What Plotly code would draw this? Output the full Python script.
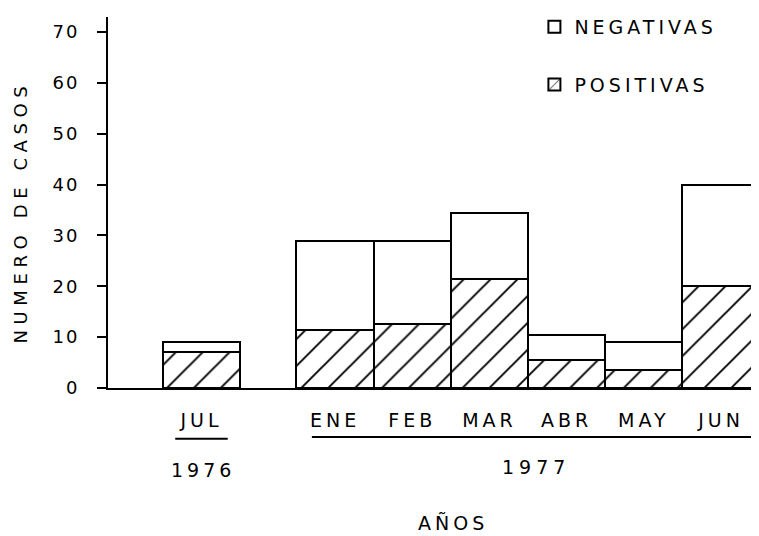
import plotly.graph_objects as go

# ---- data ----
months = ["JUL", "ENE", "FEB", "MAR", "ABR", "MAY", "JUN"]
years = ["1976", "1977"]
positivas = [7, 11.5, 12.5, 21.5, 5.5, 3.5, 20]
negativas = [2, 17.5, 16.5, 13, 5, 5.5, 20]
y_ticks = [0, 10, 20, 30, 40, 50, 60, 70]

# ---- layout helpers ----
GAP = 1.73  # distance from JUL to ENE (compressed time gap)
xpos = [0] + [GAP + i for i in range(len(months) - 1)]
FONT = "DejaVu Sans"


def spaced(t, px):
    return f'<span style="letter-spacing:{px}px">{t}</span>'


fig = go.Figure()
fig.add_trace(go.Bar(
    x=xpos, y=positivas, width=1, name=spaced("POSITIVAS", 4),
    legendgroup="pos", legendrank=2,
    marker=dict(color="white", line=dict(color="black", width=2),
                pattern=dict(shape="/", size=19, solidity=0.1,
                             fgcolor="black", fgopacity=1,
                             bgcolor="white")),
))
fig.add_trace(go.Bar(
    x=xpos, y=negativas, width=1, name=spaced("NEGATIVAS", 4),
    legendgroup="neg", legendrank=1,
    marker=dict(color="white", line=dict(color="black", width=2)),
))

fig.update_layout(
    width=751, height=528,
    margin=dict(l=100, r=0, t=8, b=148),
    barmode="stack",
    plot_bgcolor="white", paper_bgcolor="white",
    font=dict(family=FONT, color="black"),
    showlegend=True,
    legend=dict(x=0.655, y=1.024, xanchor="left", yanchor="top",
                traceorder="grouped", tracegroupgap=30,
                font=dict(size=19, family=FONT), bgcolor="rgba(0,0,0,0)"),
    xaxis=dict(range=[-1.211, 7.222], tickvals=xpos,
               ticktext=[spaced(m, 4) for m in months],
               showline=True, linecolor="black", linewidth=2,
               ticks="", showgrid=False, zeroline=False,
               tickfont=dict(size=19, family=FONT), ticklabelstandoff=14),
    yaxis=dict(range=[0, 72.94], tickvals=y_ticks,
               ticktext=[spaced(str(v), 2) for v in y_ticks],
               showline=True, linecolor="black", linewidth=2,
               ticks="outside", ticklen=9, tickwidth=2, tickcolor="black",
               showgrid=False, zeroline=False,
               tickfont=dict(size=18, family=FONT), ticklabelstandoff=14),
)

# underlines for year groups
fig.add_shape(type="line", xref="x", yref="paper",
              x0=xpos[0] - 0.34, x1=xpos[0] + 0.34, y0=-0.137, y1=-0.137,
              line=dict(color="black", width=2))
fig.add_shape(type="line", xref="x", yref="paper",
              x0=xpos[1] - 0.3, x1=7.3, y0=-0.132, y1=-0.132,
              line=dict(color="black", width=2))

common = dict(showarrow=False, xanchor="center", yanchor="middle")
fig.add_annotation(x=xpos[0] + 0.02, y=-0.22, xref="x", yref="paper",
                   text=spaced(years[0], 4),
                   font=dict(size=19, family=FONT), **common)
fig.add_annotation(x=4.33, y=-0.212, xref="x", yref="paper",
                   text=spaced(years[1], 5),
                   font=dict(size=19, family=FONT), **common)
fig.add_annotation(x=3.26, y=-0.363, xref="x", yref="paper",
                   text=spaced("AÑOS", 4),
                   font=dict(size=19, family=FONT), **common)
fig.add_annotation(x=(20 - 108) / 651, y=(388 - 212) / 372,
                   xref="paper", yref="paper",
                   text=spaced("NUMERO DE CASOS", 5.6), textangle=-90,
                   font=dict(size=18, family=FONT), **common)

fig.write_html("out.html")
